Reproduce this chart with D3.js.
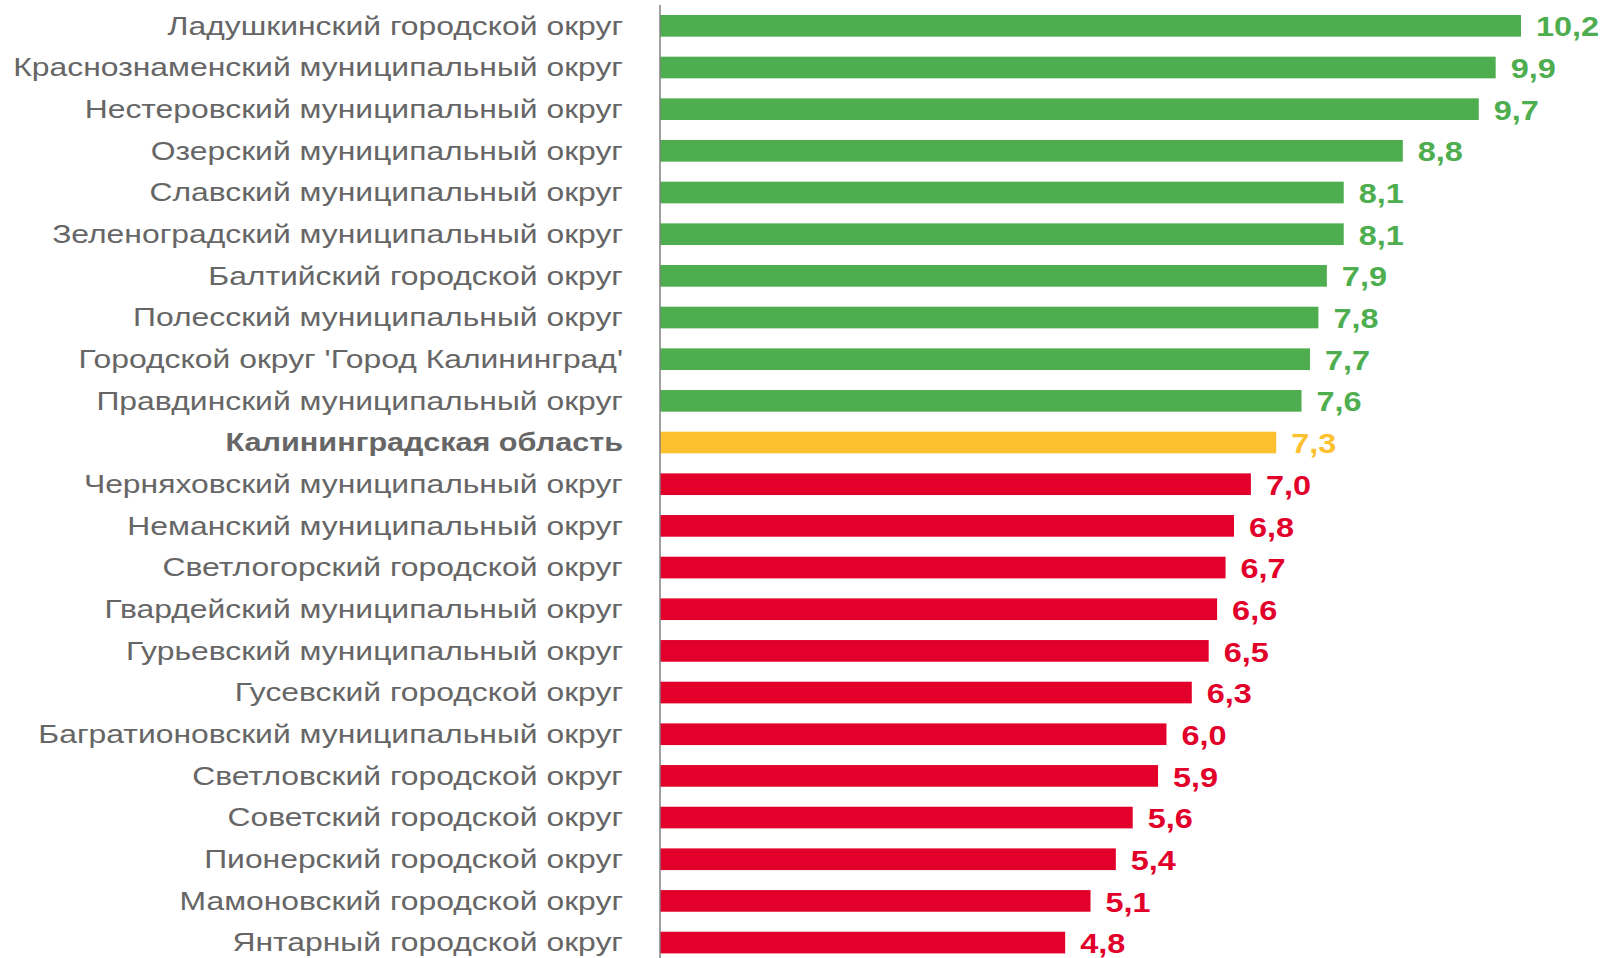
<!DOCTYPE html>
<html>
<head>
<meta charset="utf-8">
<script src="https://cdn.jsdelivr.net/npm/d3@7"></script>
<style>
  html, body { margin: 0; padding: 0; background: #fff; }
  svg { display: block; font-family: Arial, "Liberation Sans", sans-serif; }
</style>
</head>
<body>
<svg id="chart" width="1603" height="958"></svg>
<script>
const categories = [
  "Ладушкинский городской округ",
  "Краснознаменский муниципальный округ",
  "Нестеровский муниципальный округ",
  "Озерский муниципальный округ",
  "Славский муниципальный округ",
  "Зеленоградский муниципальный округ",
  "Балтийский городской округ",
  "Полесский муниципальный округ",
  "Городской округ 'Город Калининград'",
  "Правдинский муниципальный округ",
  "Калининградская область",
  "Черняховский муниципальный округ",
  "Неманский муниципальный округ",
  "Светлогорский городской округ",
  "Гвардейский муниципальный округ",
  "Гурьевский муниципальный округ",
  "Гусевский городской округ",
  "Багратионовский муниципальный округ",
  "Светловский городской округ",
  "Советский городской округ",
  "Пионерский городской округ",
  "Мамоновский городской округ",
  "Янтарный городской округ"
];
const values = [10.2, 9.9, 9.7, 8.8, 8.1, 8.1, 7.9, 7.8, 7.7, 7.6, 7.3, 7.0, 6.8, 6.7, 6.6, 6.5, 6.3, 6.0, 5.9, 5.6, 5.4, 5.1, 4.8];
const groups = ["above","above","above","above","above","above","above","above","above","above","region",
  "below","below","below","below","below","below","below","below","below","below","below","below"];
const groupColors = { above: "#4EAE4F", region: "#FDC02F", below: "#E2002B" };
const regionName = "Калининградская область";

const data = categories.map((c, i) => ({ name: c, value: values[i], group: groups[i] }));

const svg = d3.select("#chart");
const x0 = 660;
const x = d3.scaleLinear().domain([0, 10.2]).range([x0, 1521]);
const step = 41.67;
const pad = 0.48;
const y = d3.scaleBand()
  .domain(categories)
  .range([15 - step * pad / 2, 15 - step * pad / 2 + step * categories.length])
  .paddingInner(pad)
  .paddingOuter(pad / 2);

svg.selectAll("rect.bar").data(data).enter().append("rect")
  .attr("class", "bar")
  .attr("x", x(0))
  .attr("y", d => y(d.name))
  .attr("width", d => x(d.value) - x(0))
  .attr("height", y.bandwidth())
  .attr("fill", d => groupColors[d.group]);

// Category labels (reference text is horizontally stretched)
svg.selectAll("text.cat").data(data).enter().append("text")
  .attr("class", "cat")
  .attr("transform", d => `translate(623,${y(d.name) + y.bandwidth() / 2}) scale(${d.name === regionName ? 1.225 : 1.275},1)`)
  .attr("dy", "0.35em")
  .attr("text-anchor", "end")
  .attr("font-size", 25)
  .attr("font-weight", d => d.name === regionName ? "bold" : "normal")
  .attr("fill", "#666666")
  .text(d => d.name);

// Value labels
const fmt = d3.formatLocale({ decimal: ",", thousands: " ", grouping: [3], currency: ["", ""] }).format(".1f");
svg.selectAll("text.val").data(data).enter().append("text")
  .attr("class", "val")
  .attr("transform", d => `translate(${x(d.value) + 15},${y(d.name) + y.bandwidth() / 2 + 1}) scale(1.18,1)`)
  .attr("dy", "0.35em")
  .attr("font-size", 27.5)
  .attr("font-weight", "bold")
  .attr("fill", d => groupColors[d.group])
  .text(d => fmt(d.value));

// Axis line
svg.append("line")
  .attr("x1", x0).attr("x2", x0)
  .attr("y1", 5).attr("y2", 958)
  .attr("stroke", "#808080")
  .attr("stroke-width", 1.5);
</script>
</body>
</html>
